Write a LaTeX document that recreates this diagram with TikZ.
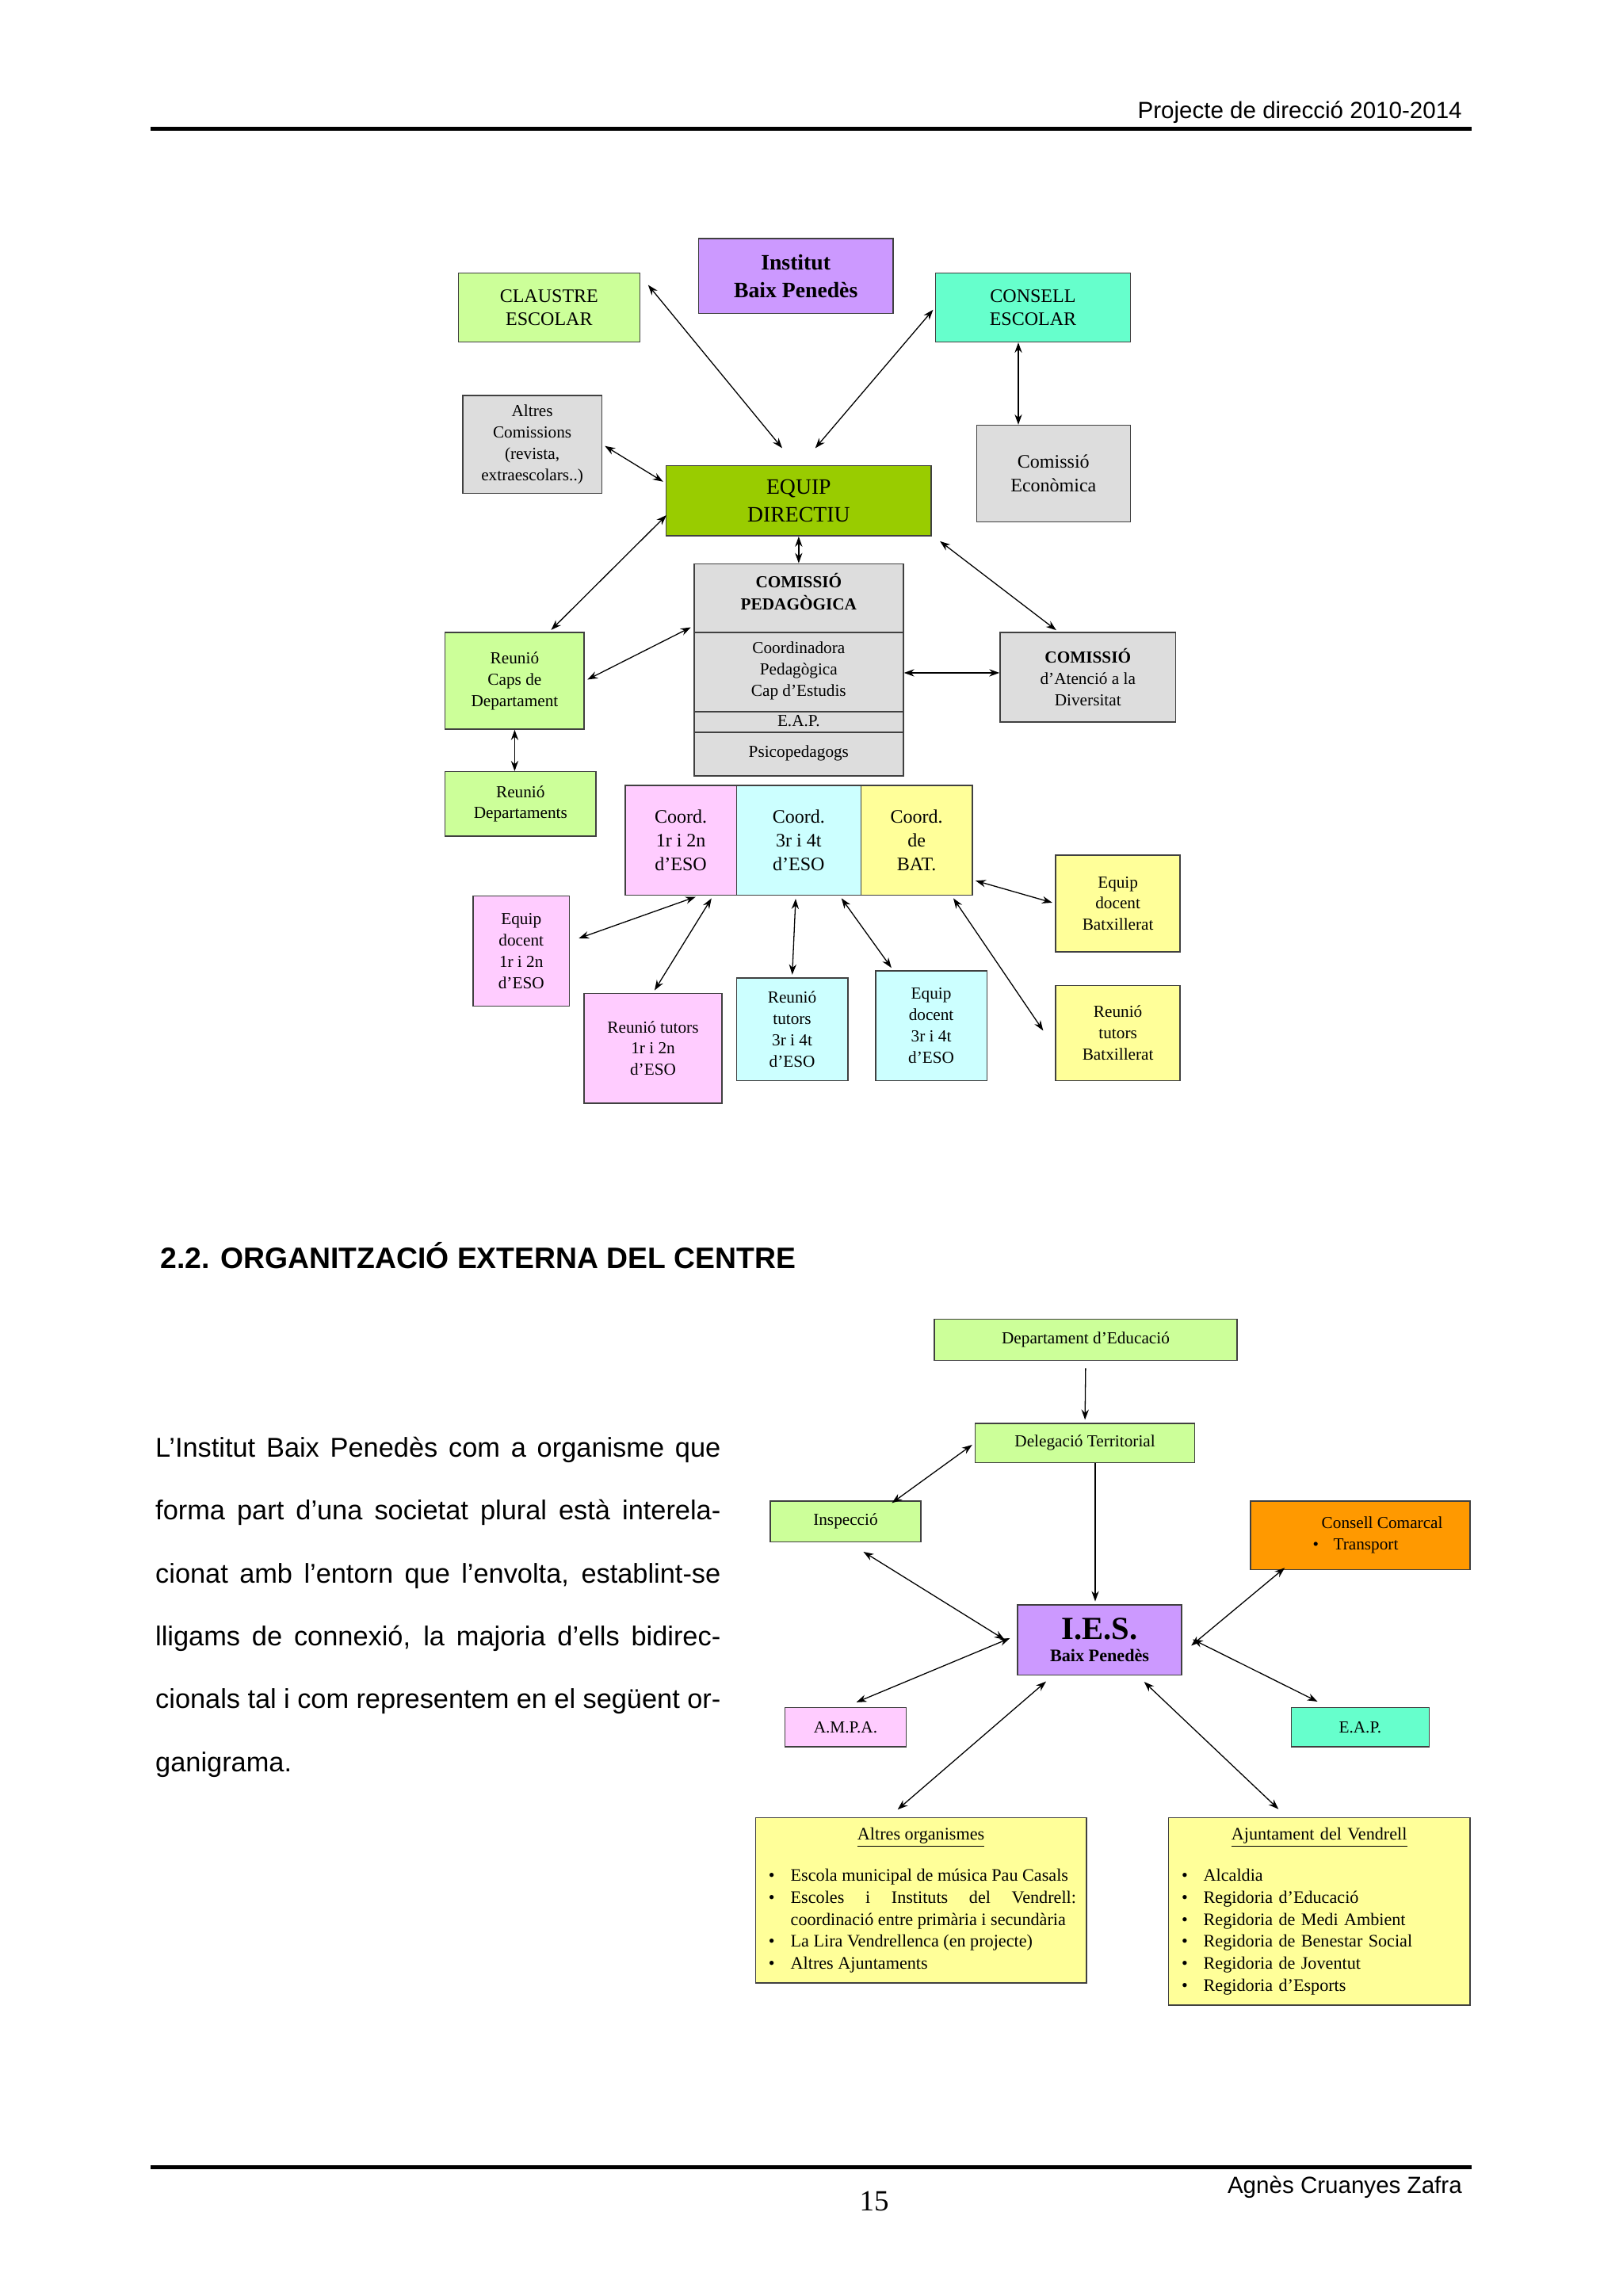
\documentclass[tikz,border=0pt]{standalone}
\usepackage{fontspec}
\setmainfont{Liberation Serif}
\newfontfamily\arialf{Liberation Sans}
\usetikzlibrary{arrows.meta}
\definecolor{lilac}{HTML}{CC99FF}
\definecolor{lgreen}{HTML}{CCFF99}
\definecolor{aqua}{HTML}{66FFCC}
\definecolor{lgray}{HTML}{DDDDDD}
\definecolor{olive}{HTML}{99CC00}
\definecolor{lpink}{HTML}{FFCCFF}
\definecolor{lcyan}{HTML}{CCFFFF}
\definecolor{lyellow}{HTML}{FFFF99}
\definecolor{orng}{HTML}{FF9900}
\tikzset{
  org_box/.style={draw=black!75,line width=0.8pt,align=center,inner sep=2pt},
  two_way/.style={{Stealth[length=7pt,width=5pt]}-{Stealth[length=7pt,width=5pt]},line width=0.7pt,shorten <=2pt,shorten >=2pt},
  one_way/.style={-{Stealth[length=7pt,width=5pt]},line width=0.7pt},
}
\newcommand{\orgitem}[1]{\par\noindent\hangindent=17pt\hangafter=1\makebox[17pt][l]{\,\textbullet}#1}
\begin{document}
\begin{tikzpicture}[
  x=1pt,y=-1pt,
  every node/.style={font=\fontsize{13}{16}\selectfont},
  small/.style={font=\fontsize{11.5}{14.5}\selectfont},
  ]
  \useasboundingbox (0,0) rectangle (1108,1568);

  % page frame
  \node[anchor=base east,font=\arialf\fontsize{16}{18}\selectfont] (head) at (1002,81) {Projecte de direcció 2010-2014};
  \draw[line width=2.5pt] (103,88) -- (1005,88);
  \draw[line width=2.5pt] (103,1480) -- (1005,1480);
  \node[anchor=base,font=\fontsize{20}{22}\selectfont] (pnum) at (597,1510) {15};
  \node[anchor=base east,font=\arialf\fontsize{16}{18}\selectfont] (auth) at (1002,1498) {Agnès Cruanyes Zafra};

  % internal organigram
  \node[org_box,fill=lilac,minimum width=133,minimum height=51,font=\bfseries\fontsize{15}{19}\selectfont] (inst) at (543.5,188.5) {Institut\\Baix Penedès};
  \node[org_box,fill=lgreen,minimum width=124,minimum height=47] (claustre) at (375,210) {CLAUSTRE\\ESCOLAR};
  \node[org_box,fill=aqua,minimum width=133,minimum height=47] (consell) at (705.5,210) {CONSELL\\ESCOLAR};
  \node[org_box,fill=lgray,minimum width=95,minimum height=67,small] (altres) at (363.5,303.5) {Altres\\Comissions\\(revista,\\extraescolars..)};
  \node[org_box,fill=lgray,minimum width=105,minimum height=66,anchor=north,inner sep=5pt] (econ) at (719.5,290) {Comissió\\Econòmica};
  \node[org_box,fill=olive,minimum width=181,minimum height=48,font=\fontsize{15}{19}\selectfont] (equip) at (545.5,342) {EQUIP\\DIRECTIU};
  \node[org_box,fill=lgray,minimum width=143,minimum height=145] (pedag) at (545.5,457.5) {};
  \draw[draw=black!75,line width=0.8pt] (pedag.west |- 0,432) -- (pedag.east |- 0,432)
    (pedag.west |- 0,486) -- (pedag.east |- 0,486)
    (pedag.west |- 0,500) -- (pedag.east |- 0,500);
  \node[small,align=center,font=\bfseries\fontsize{11.5}{15}\selectfont] (pedagt) at (545.5,404) {COMISSIÓ\\PEDAGÒGICA};
  \node[small,align=center] (coordp) at (545.5,458) {Coordinadora\\Pedagògica\\Cap d’Estudis};
  \node[small] (eapint) at (545.5,492.5) {E.A.P.};
  \node[small] (psico) at (545.5,514.5) {Psicopedagogs};
  \node[org_box,fill=lgray,minimum width=120,minimum height=61,small] (atencio) at (743,462.5) {\textbf{COMISSIÓ}\\d’Atenció a la\\Diversitat};
  \node[org_box,fill=lgreen,minimum width=95,minimum height=66,small] (caps) at (351.5,465) {Reunió\\Caps de\\Departament};
  \node[org_box,fill=lgreen,minimum width=103,minimum height=44,small] (deps) at (355.5,549) {Reunió\\Departaments};
  \node[org_box,fill=lpink,minimum width=76,minimum height=75,anchor=north,inner sep=4pt] (c12) at (465,536) {Coord.\\1r i 2n\\d'ESO};
  \node[org_box,fill=lcyan,minimum width=85,minimum height=75,anchor=north,inner sep=4pt] (c34) at (545.5,536) {Coord.\\3r i 4t\\d'ESO};
  \node[org_box,fill=lyellow,minimum width=76,minimum height=75,anchor=north,inner sep=4pt] (cbat) at (626,536) {Coord.\\de\\BAT.};
  \node[org_box,fill=lyellow,minimum width=85,minimum height=66,small] (edb) at (763.5,617) {Equip\\docent\\Batxillerat};
  \node[org_box,fill=lpink,minimum width=66,minimum height=75,small] (ed12) at (356,649.5) {Equip\\docent\\1r i 2n\\d'ESO};
  \node[org_box,fill=lpink,minimum width=94,minimum height=75,small,anchor=north,inner sep=4pt] (rt12) at (446,678) {Reunió tutors\\1r i 2n\\d'ESO};
  \node[org_box,fill=lcyan,minimum width=76,minimum height=70,small] (rt34) at (541,703) {Reunió\\tutors\\3r i 4t\\d'ESO};
  \node[org_box,fill=lcyan,minimum width=76,minimum height=75,small] (ed34) at (636,700.5) {Equip\\docent\\3r i 4t\\d'ESO};
  \node[org_box,fill=lyellow,minimum width=85,minimum height=65,small] (rtb) at (763.5,705.5) {Reunió\\tutors\\Batxillerat};

  \draw[two_way] ([xshift=4,yshift=-7]claustre.north east) -- ([xshift=-10,yshift=10]equip.north);
  \draw[two_way] (consell.west) -- ([xshift=10,yshift=10]equip.north);
  \draw[two_way,shorten <=0pt,shorten >=0pt] ([xshift=-10]consell.south) -- ([xshift=-24]econ.north);
  \draw[two_way] (altres.east) -- ([yshift=12]equip.west);
  \draw[two_way] ([xshift=4,yshift=-2]equip.south east) -- ([xshift=-20]atencio.north);
  \draw[two_way,shorten <=0pt,shorten >=0pt] (equip.south) -- (pedag.north);
  \draw[two_way] ([xshift=2,yshift=16]equip.south west) -- ([xshift=23.5]caps.north);
  \draw[two_way] (caps.east) -- ([yshift=30]pedag.west);
  \draw[two_way,shorten <=0pt,shorten >=0pt] ([yshift=-2]pedag.east) -- ([yshift=-2]pedag.east -| atencio.west);
  \draw[two_way,shorten <=0pt,shorten >=0pt] (caps.south) -- (caps.south |- deps.north);
  \draw[two_way] ([xshift=4,yshift=8]ed12.east) -- ([xshift=12]c12.south);
  \draw[two_way] (rt12.north) -- ([xshift=22]c12.south);
  \draw[two_way] (rt34.north) -- ([xshift=-2]c34.south);
  \draw[two_way] ([xshift=-26]ed34.north) -- ([xshift=28]c34.south);
  \draw[two_way] ([yshift=-27]cbat.east) -- (edb.west);
  \draw[two_way] ([xshift=24]cbat.south) -- ([xshift=-7]rtb.west);

  % external organisation
  \node[anchor=base west,font=\arialf\bfseries\fontsize{20.2}{22}\selectfont] (sect) at (106,866) {2.2. ORGANITZACIÓ EXTERNA DEL CENTRE};
  \node[anchor=north west,inner sep=0pt,text width=386,align=justify,font=\arialf\fontsize{18.6}{43}\selectfont] (para) at (106,981)
    {\hyphenpenalty=10000\exhyphenpenalty=10000 L’Institut Baix Penedès com a organisme que forma part d’una societat plural està interelacionat amb l’entorn que l’envolta, establint-se lligams de connexió, la majoria d’ells bidireccionals tal i com representem en el següent organigrama.};

  \node[org_box,fill=lgreen,minimum width=207,minimum height=28,small] (dep) at (741.5,915) {Departament d'Educació};
  \node[org_box,fill=lgreen,minimum width=150,minimum height=27,small] (del) at (741,985.5) {Delegació Territorial};
  \node[org_box,fill=lgreen,minimum width=103,minimum height=28,small] (insp) at (577.5,1039) {Inspecció};
  \node[org_box,fill=orng,minimum width=150,minimum height=47,small,align=left] (cc) at (929,1048.5) {\hspace*{30pt}Consell Comarcal\\\hspace*{24pt}\textbullet\hspace{10pt}Transport};
  \node[org_box,fill=lilac,minimum width=112,minimum height=48,inner sep=0pt] (ies) at (751,1120) {{\bfseries\fontsize{22}{22}\selectfont I.E.S.}\\[-1pt]{\bfseries\fontsize{12}{13}\selectfont Baix Penedès}};
  \node[org_box,fill=lpink,minimum width=83,minimum height=27,small] (ampa) at (577.5,1179.5) {A.M.P.A.};
  \node[org_box,fill=aqua,minimum width=94,minimum height=27,small] (eapext) at (929,1179.5) {E.A.P.};
  \node[org_box,fill=lyellow,anchor=north,align=justify,text width=212,inner sep=7pt,font=\fontsize{12}{15}\selectfont] (altorg) at (629,1241)
    {\hyphenpenalty=10000\makebox[\linewidth]{\underline{Altres organismes}}\par\vspace{13pt}
     \orgitem{Escola municipal de música Pau Casals}
     \orgitem{Escoles i Instituts del Vendrell: coordinació entre primària i secundària}
     \orgitem{La Lira Vendrellenca (en projecte)}
     \orgitem{Altres Ajuntaments}\par\vspace{14pt}};
  \node[org_box,fill=lyellow,anchor=north,align=left,text width=192,inner sep=7pt,font=\fontsize{12}{15}\selectfont] (ajunt) at (901,1241)
    {\makebox[\linewidth]{\underline{Ajuntament del Vendrell}}\par\vspace{13pt}
     \orgitem{Alcaldia}
     \orgitem{Regidoria d’Educació}
     \orgitem{Regidoria de Medi Ambient}
     \orgitem{Regidoria de Benestar Social}
     \orgitem{Regidoria de Joventut}
     \orgitem{Regidoria d’Esports}\par\vspace{25pt}};

  \draw[one_way,shorten <=5pt,shorten >=2pt] (dep.south) -- (del.north);
  \draw[one_way,shorten >=2pt] ([xshift=7]del.south) -- ([xshift=-3]ies.north);
  \draw[two_way] (del.west) -- ([xshift=30,yshift=-3]insp.north);
  \draw[two_way,shorten <=12pt,shorten >=10pt] ([xshift=2]insp.south) -- ([yshift=-5]ies.west);
  \draw[two_way,shorten <=8pt] (ampa.north) -- ([xshift=-3,yshift=2]ies.west);
  \draw[two_way,shorten <=8pt] ([yshift=-9]ies.east) -- ([xshift=-50,yshift=3]cc.south);
  \draw[two_way,shorten <=8pt,shorten >=8pt] ([yshift=4]ies.east) -- ([xshift=-22]eapext.north);
  \draw[two_way,shorten <=6pt,shorten >=8pt] ([xshift=-32]ies.south) -- ([xshift=-22]altorg.north);
  \draw[two_way,shorten <=6pt,shorten >=8pt] ([xshift=26]ies.south) -- ([xshift=-22]ajunt.north);
\end{tikzpicture}
\end{document}
